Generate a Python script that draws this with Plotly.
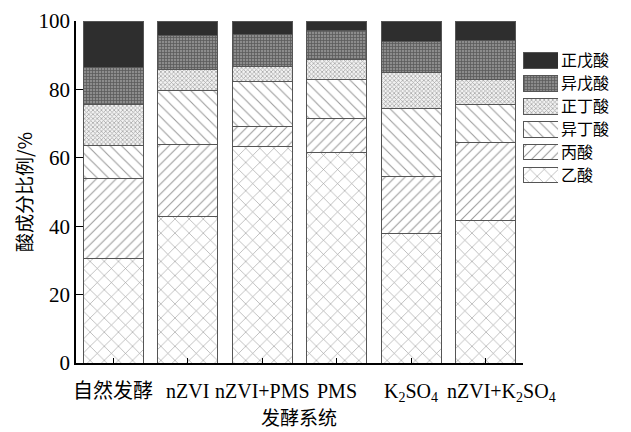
import plotly.graph_objects as go

# Fermentation systems (x categories)
systems = ["自然发酵", "nZVI", "nZVI+PMS", "PMS",
           "K<sub>2</sub>SO<sub>4</sub>", "nZVI+K<sub>2</sub>SO<sub>4</sub>"]
# Horizontal nudge (px) of each category label under its column
label_shift = [0, 0, 0, 0, 0, 16]

# Share of each volatile fatty acid (%), bottom to top of each stack
acetic = [30.7, 42.7, 63.4, 61.5, 38.0, 41.7]          # 乙酸
propionic = [23.2, 21.3, 5.7, 10.1, 16.5, 22.7]        # 丙酸
isobutyric = [9.7, 15.8, 13.3, 11.3, 19.9, 11.2]       # 异丁酸
n_butyric = [12.0, 6.1, 4.2, 5.8, 10.4, 7.2]           # 正丁酸
isovaleric = [10.8, 10.0, 9.6, 8.4, 9.3, 11.4]         # 异戊酸
n_valeric = [13.6, 4.1, 3.8, 2.9, 5.9, 5.8]            # 正戊酸

acid_names = ["乙酸", "丙酸", "异丁酸", "正丁酸", "异戊酸", "正戊酸"]
acid_values = [acetic, propionic, isobutyric, n_butyric, isovaleric, n_valeric]

# Fill style per acid: (pattern shape, fg colour, bg colour, size, solidity)
styles = [
    ("x", "#9a9a9a", "white", 10, 0.12),
    ("/", "#9a9a9a", "white", 7, 0.15),
    ("\\", "#9a9a9a", "white", 8, 0.13),
    ("x", "#a8a8a8", "#f2f2f2", 3, 0.45),
    ("+", "#5a5a5a", "#8c8c8c", 3, 0.45),
    ("", "#2e2e2e", "#2e2e2e", 8, 0.3),
]

SERIF = "Liberation Serif, Noto Sans CJK SC, serif"
CJK = "Noto Sans CJK SC, sans-serif"
SWATCH_LEN = 1  # full width of the key's x range
MAIN_X_DOMAIN = [0, 0.8107]

fig = go.Figure()
for name, vals, (shape, fg, bg, size, sol) in zip(acid_names, acid_values, styles):
    marker = dict(color=bg if shape else fg,
                  line=dict(color="#555555", width=1))
    if shape:
        marker["pattern"] = dict(shape=shape, fgcolor=fg, bgcolor=bg,
                                 size=size, solidity=sol, fillmode="replace")
    # stacked column segment
    fig.add_trace(go.Bar(x=systems, y=vals, name=name, marker=marker,
                         width=0.806, showlegend=False))
    # key swatch, drawn on its own small axis pair at the right
    fig.add_trace(go.Bar(x=[SWATCH_LEN], y=[name], orientation="h",
                         marker=marker, width=0.66, showlegend=False,
                         xaxis="x2", yaxis="y2", hoverinfo="skip"))

# Category labels under the columns
for cat, dx in zip(systems, label_shift):
    fig.add_annotation(x=cat, y=0, xref="x", yref="y", text=cat,
                       showarrow=False, xanchor="center", yanchor="top",
                       xshift=dx, yshift=-15,
                       font=dict(family=SERIF, size=20, color="black"))

# x-axis title
fig.add_annotation(x=sum(MAIN_X_DOMAIN) / 2, y=-0.155, xref="paper", yref="paper",
                   text="发酵系统", showarrow=False,
                   xanchor="center", yanchor="middle",
                   font=dict(family=CJK, size=19, color="black"))

fig.update_layout(
    barmode="stack",
    width=631, height=432,
    margin=dict(l=76, r=4, t=21, b=69),
    paper_bgcolor="white", plot_bgcolor="white",
    font=dict(family=SERIF, size=18, color="black"),
    xaxis=dict(
        domain=MAIN_X_DOMAIN, range=[-0.5, 5.5], automargin=False,
        showline=True, linecolor="black", linewidth=1.5,
        ticks="inside", ticklen=5, tickcolor="black", showgrid=False,
        showticklabels=False,
    ),
    yaxis=dict(
        range=[0, 100], automargin=False,
        showline=True, linecolor="black", linewidth=1.5,
        ticks="inside", ticklen=7, tickcolor="black", showgrid=False,
        tickvals=[0, 20, 40, 60, 80, 100], zeroline=False,
        tickfont=dict(family=SERIF, size=21),
        title=dict(text="酸成分比例/%", font=dict(family=CJK, size=19), standoff=1),
    ),
    xaxis2=dict(domain=[0.8113, 0.8748], range=[0, SWATCH_LEN], anchor="y2",
                visible=False, fixedrange=True),
    yaxis2=dict(domain=[0.515, 0.918], anchor="x2", side="right",
                type="category", categoryorder="array", categoryarray=acid_names,
                tickmode="array", tickvals=acid_names,
                range=[-0.5, 5.5], showline=False, showgrid=False, zeroline=False,
                ticks="", ticklabelstandoff=2, fixedrange=True,
                tickfont=dict(family=CJK, size=16, color="black")),
)

fig.write_html("out.html")
